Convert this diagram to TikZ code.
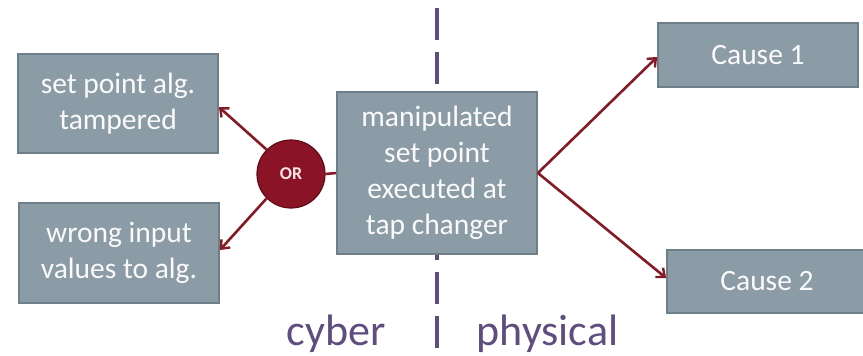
\documentclass[tikz,border=0pt]{standalone}
\usepackage{fontspec}
\setmainfont{Carlito}
\usetikzlibrary{arrows.meta}
\definecolor{boxfill}{HTML}{8C9CA6}
\definecolor{boxline}{HTML}{6F7F89}
\definecolor{linkred}{HTML}{861A24}
\definecolor{gatefill}{HTML}{8A1426}
\definecolor{gateline}{HTML}{5E0D18}
\definecolor{sidecol}{HTML}{5E4D7E}
\tikzset{
  box/.style={draw=boxline, line width=1.8pt, fill=boxfill, text=white!96!gray,
    align=center, inner sep=0pt, minimum width=200pt,
    font=\fontsize{29.5}{36}\selectfont},
  gate/.style={circle, draw=gateline, line width=1.2pt, fill=gatefill,
    minimum size=68pt, inner sep=0pt, text=white!90!red,
    font=\fontsize{18}{20}\selectfont\bfseries},
  link/.style={draw=linkred, line width=2.6pt,
    -{Straight Barb[length=7pt,width=12pt,line width=2.4pt]}},
  plainlink/.style={draw=linkred, line width=2.6pt},
  divider/.style={draw=sidecol, line width=3.5pt,
    dash pattern=on 32pt off 12pt},
  side/.style={text=sidecol, font=\fontsize{44}{50}\selectfont, inner sep=0pt}
}
\begin{document}
\begin{tikzpicture}[x=1pt, y=-1pt]
  \useasboundingbox (0,0) rectangle (863,356);

  % cyber / physical boundary
  \coordinate (divtop) at (437,8);
  \coordinate (divbot) at (437,348);
  \draw[divider] (divtop) -- (divbot);

  % boxes
  \node[box, minimum height=99pt] (tamper) at (118,103.5) {set point alg.\\tampered};
  \node[box, minimum height=100pt] (wrong) at (119,253) {wrong input\\values to alg.};
  \node[box, minimum height=162pt] (exec) at (437,173) {manipulated\\set point\\executed at\\tap changer};
  \node[box, minimum height=64pt] (cause1) at (758,55) {Cause 1};
  \node[box, minimum height=63pt] (cause2) at (767,281.5) {Cause 2};

  % OR gate
  \node[gate] (or) at (291,174) {OR};

  % connectors
  \draw[plainlink] (or.east) -- (exec.west);
  \draw[link] (or.135) -- ([yshift=-3.5pt]tamper.east);
  \draw[link] (or.225) -- ([yshift=3pt]wrong.east);
  \draw[link] (exec.east) -- ([yshift=-2pt]cause1.west);
  \draw[link] (exec.east) -- ([yshift=3.5pt]cause2.west);

  % side labels
  \node[side, anchor=base] (cyber) at (336,345) {cyber};
  \node[side, anchor=base] (physical) at (547.5,345) {physical};
\end{tikzpicture}
\end{document}
